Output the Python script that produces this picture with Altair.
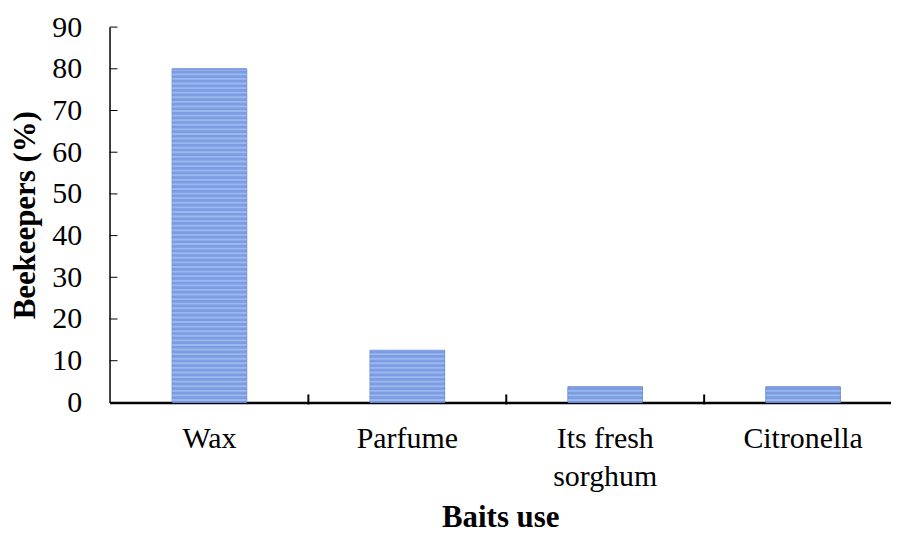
import altair as alt
import pandas as pd

baits = ["Wax", "Parfume", "Its fresh sorghum", "Citronella"]
beekeepers_pct = [80.0, 12.5, 3.75, 3.75]
y_ticks = [0, 10, 20, 30, 40, 50, 60, 70, 80, 90]

df = pd.DataFrame({"bait": baits, "pct": beekeepers_pct})
yt_df = pd.DataFrame({"pct": y_ticks[1:]})
xt_df = pd.DataFrame({"bait": baits[1:]})

# light horizontal stripes drawn inside each bar (decoration)
rows = []
for b, v in zip(baits, beekeepers_pct):
    k = 0.0
    while k + 0.35 < v:
        rows.append({"bait": b, "pct": k + 0.35, "pct_end": min(k + 0.8, v - 0.2)})
        k += 1.1
stripes_df = pd.DataFrame(rows)

FONT = "Liberation Serif"
W, H = 785, 377
P_IN = 0.623
P_OUT = 0.286
xscale = alt.Scale(domain=baits, paddingInner=P_IN, paddingOuter=P_OUT, align=0.553)
yscale = alt.Scale(domain=[0, 90], nice=False)
STEP = W / (len(baits) - P_IN + 2 * P_OUT)

label_expr = "datum.label == 'Its fresh sorghum' ? ['Its fresh', 'sorghum'] : datum.label"

x_axis = alt.Axis(title="Baits use", orient="bottom", ticks=False, labelAngle=0,
                  labelFont=FONT, labelFontSize=30, labelColor="black",
                  labelPadding=21, labelExpr=label_expr, labelLineHeight=38,
                  labelBaseline="top",
                  titleFont=FONT, titleFontSize=31, titleFontWeight="bold",
                  titleColor="black", titlePadding=12,
                  domainColor="black", domainWidth=2.5)
y_axis = alt.Axis(title="Beekeepers (%)", orient="left", ticks=False, values=y_ticks,
                  grid=False, labelFont=FONT, labelFontSize=30, labelColor="black",
                  labelPadding=28,
                  titleFont=FONT, titleFontSize=31, titleFontWeight="bold",
                  titleColor="black", titlePadding=10,
                  domainColor="black", domainWidth=1.5)

bars = alt.Chart(df).mark_bar(color="#7d9de2", stroke="#6788d4", strokeWidth=1).encode(
    x=alt.X("bait:N", sort=baits, scale=xscale, axis=x_axis, title="Baits use"),
    y=alt.Y("pct:Q", scale=yscale, axis=y_axis, title="Beekeepers (%)"),
)

stripes = alt.Chart(stripes_df).mark_bar(color="#9cb6ee").encode(
    x=alt.X("bait:N", sort=baits, scale=xscale, title="Baits use"),
    y=alt.Y("pct:Q", scale=yscale, title="Beekeepers (%)"),
    y2="pct_end:Q",
)

y_tick_marks = alt.Chart(yt_df).mark_rule(color="black", strokeWidth=1).encode(
    y=alt.Y("pct:Q", scale=yscale, title="Beekeepers (%)"),
    x=alt.value(0),
    x2=alt.value(8),
)

x_tick_marks = alt.Chart(xt_df).mark_rule(color="black", strokeWidth=2).encode(
    x=alt.X("bait:N", sort=baits, scale=xscale, bandPosition=0, title="Baits use"),
    xOffset=alt.value(-P_IN * STEP / 2),
    y=alt.value(H - 8),
    y2=alt.value(H + 2),
)

chart = alt.layer(bars, stripes, y_tick_marks, x_tick_marks).properties(
    width=W, height=H,
    autosize=alt.AutoSizeParams(type="none"),
    padding={"left": 102, "top": 18, "right": 0, "bottom": 132},
    background="white",
).configure_view(stroke=None)

chart.save("out.html", embed_options={"renderer": "svg", "actions": False})
